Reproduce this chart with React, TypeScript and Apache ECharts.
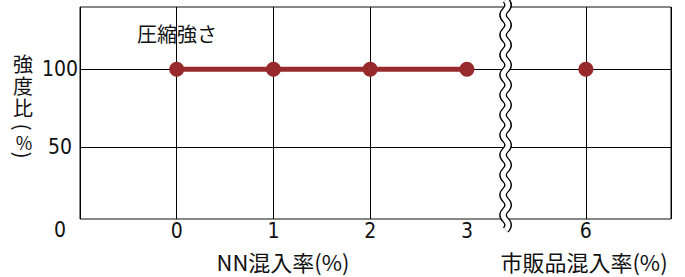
import React, { useEffect, useRef } from "react";
import * as echarts from "echarts";

// ---- data ----
const nnRates = [0, 1, 2, 3];
const nnStrength = [100, 100, 100, 100];
const commercialRates = [6];
const commercialStrength = [100];
const xTickLabels = [0, 1, 2, 3, 6];
const yTickLabels = [0, 50, 100];
const seriesTitle = "圧縮強さ";
const xNameNN = "NN混入率(%)";
const xNameCommercial = "市販品混入率(%)";
const yNameChars = ["強", "度", "比"];

const RED = "#982a2d";
const NUM_FONT = '"Liberation Sans Narrow", "DejaVu Sans Condensed", "Noto Sans CJK JP", sans-serif';
const JP_FONT = '"Noto Sans CJK JP", sans-serif';

// axis break (layout only)
const BREAK_START = 3.33;
const BREAK_END = 5.24;
const BREAK_GAP = 0.14;
const X_MIN = -1;
const X_MAX = 6.88;

function wavePath(): string {
  const A = 2.5;
  const h = 10;
  let d = "M 0 0";
  let y = 0;
  let s = 1;
  while (y < 228) {
    d += ` Q ${s * 2 * A} ${y + h / 2} 0 ${y + h}`;
    y += h;
    s = -s;
  }
  return d;
}

let registered = false;

export default function App() {
  const ref = useRef<HTMLDivElement>(null);
  useEffect(() => {
    if (!ref.current) return;
    if (!registered) {
      echarts.graphic.registerShape("breakWave", echarts.graphic.extendPath(wavePath(), {}) as any);
      registered = true;
    }
    const chart = echarts.init(ref.current, undefined, { renderer: "svg" });
    const xCommon: any = {
      type: "value",
      min: X_MIN,
      max: X_MAX,
      interval: 1,
      breaks: [{ start: BREAK_START, end: BREAK_END, gap: BREAK_GAP }],
      breakArea: { show: false },
    };
    const option: any = {
      animation: false,
      grid: [
        { left: 80, right: 14, top: 7, bottom: 52, show: false },
        { left: 80, right: 14, top: 7, bottom: 58, show: true, borderColor: "#111", borderWidth: 1, backgroundColor: "transparent" },
      ],
      xAxis: [
        { ...xCommon, gridIndex: 0, show: false },
        {
          ...xCommon,
          gridIndex: 1,
          axisLine: { show: false },
          axisTick: { show: false },
          splitLine: { show: true, lineStyle: { color: "#000", width: 1 } },
          axisLabel: {
            customValues: xTickLabels,
            hideOverlap: false,
            margin: 1,
            fontSize: 21,
            color: "#111",
            fontFamily: NUM_FONT,
            formatter: (v: number) => String(v),
          },
        },
      ],
      yAxis: [
        {
          type: "value",
          gridIndex: 0,
          min: 0,
          max: 140,
          interval: 50,
          axisLine: { show: false },
          axisTick: { show: false },
          splitLine: { show: true, showMinLine: false, showMaxLine: false, lineStyle: { color: "#000", width: 1 } },
          axisLabel: {
            margin: 20,
            align: "center",
            verticalAlign: "middle",
            fontSize: 21,
            color: "#111",
            fontFamily: NUM_FONT,
            formatter: (v: number) => (yTickLabels.includes(v) ? (v === 0 ? "{low|0}" : String(v)) : ""),
            rich: {
              low: { fontSize: 21, fontFamily: NUM_FONT, color: "#111", padding: [10, 0, 0, 0] },
            },
          },
        },
        { type: "value", gridIndex: 1, min: 0, max: 1, show: false },
      ],
      series: [
        {
          type: "line",
          xAxisIndex: 0,
          yAxisIndex: 0,
          data: nnRates.map((x, i) => [x, nnStrength[i]]),
          symbol: "circle",
          symbolSize: 15,
          lineStyle: { color: RED, width: 5 },
          itemStyle: { color: RED, opacity: 1 },
          z: 5,
        },
        {
          type: "scatter",
          xAxisIndex: 0,
          yAxisIndex: 0,
          data: commercialRates.map((x, i) => [x, commercialStrength[i]]),
          symbol: "circle",
          symbolSize: 15,
          itemStyle: { color: RED, opacity: 1 },
          z: 5,
        },
      ],
    };
    chart.setOption(option);

    const ps = chart.convertToPixel({ xAxisIndex: 1 }, BREAK_START) as number;
    const pe = chart.convertToPixel({ xAxisIndex: 1 }, BREAK_END) as number;
    const cx = (ps + pe) / 2;

    const yTitleTexts = yNameChars.map((ch, i) => ({
      type: "text",
      x: 23,
      y: 63 + i * 22,
      style: { text: ch, fontSize: 20, lineHeight: 20, fontFamily: JP_FONT, fill: "#111", align: "center", verticalAlign: "middle" },
    }));

    chart.setOption({
      graphic: [
        { type: "breakWave", x: cx, y: 0, z: 100, style: { stroke: "#000", lineWidth: 7.4, fill: "none" } },
        { type: "breakWave", x: cx, y: 0, z: 101, style: { stroke: "#fff", lineWidth: 4.8, fill: "none" } },
        {
          type: "text",
          left: 137,
          top: 23,
          style: { text: seriesTitle, fontSize: 20, fontFamily: JP_FONT, fill: "#111" },
        },
        {
          type: "text",
          x: 283,
          y: 261,
          style: { text: xNameNN, fontSize: 22, fontFamily: JP_FONT, fill: "#111", align: "center", verticalAlign: "middle" },
        },
        {
          type: "text",
          x: 584,
          y: 261,
          style: { text: xNameCommercial, fontSize: 22, fontFamily: JP_FONT, fill: "#111", align: "center", verticalAlign: "middle" },
        },
        ...yTitleTexts,
        {
          type: "text",
          x: 23,
          y: 127,
          rotation: -Math.PI / 2,
          style: { text: "(", fontSize: 20, lineHeight: 10, fontFamily: JP_FONT, fill: "#111", align: "center", verticalAlign: "middle" },
        },
        {
          type: "text",
          x: 24,
          y: 142,
          style: { text: "%", fontSize: 18, lineHeight: 13, fontFamily: JP_FONT, fill: "#111", align: "center", verticalAlign: "middle" },
        },
        {
          type: "text",
          x: 23,
          y: 155,
          rotation: -Math.PI / 2,
          style: { text: ")", fontSize: 20, lineHeight: 10, fontFamily: JP_FONT, fill: "#111", align: "center", verticalAlign: "middle" },
        },
      ],
    });

    return () => chart.dispose();
  }, []);
  return <div ref={ref} style={{ width: 685, height: 277, position: "absolute", left: 0, top: 0 }} />;
}
